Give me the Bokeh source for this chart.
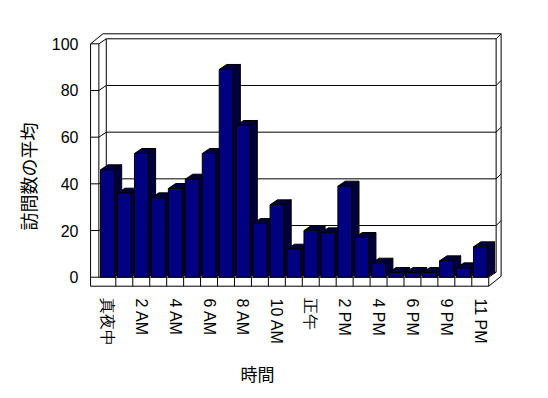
from bokeh.plotting import figure
from bokeh.models import Range1d, FixedTicker, Title
from bokeh.embed import file_html
from bokeh.resources import INLINE

# ---- data ----
categories = ["真夜中", "1 AM", "2 AM", "3 AM", "4 AM", "5 AM", "6 AM", "7 AM",
              "8 AM", "9 AM", "10 AM", "11 AM", "正午", "1 PM", "2 PM", "3 PM",
              "4 PM", "5 PM", "6 PM", "7 PM", "9 PM", "10 PM", "11 PM"]
visits = [46, 36, 53, 34, 38, 42, 53, 89, 65, 23, 31, 12,
          20, 19, 39, 17, 6, 2, 2, 2, 7, 4, 13]
y_ticks = [0, 20, 40, 60, 80, 100]
x_title = "時間"
y_title = "訪問数の平均"

# ---- geometry (3D look) ----
PX_X = 16.95          # px per category
PX_Y = 2.334          # px per value unit
DX, DY = 7.4 / PX_X, 5.0 / PX_Y      # depth of plot box
TX, TY = 5.0 / PX_X, 5.0 / PX_Y      # wall thickness (oblique)
WALL = 8.3 / PX_X                    # left wall front thickness
FLOOR = 9.0 / PX_Y                   # floor slab thickness
BAR_L, BAR_R = 0.10, 0.91
N = len(visits)
YMAX = y_ticks[-1]

x0, x1 = -0.73, 23.93
y0, y1 = -4.84, 105.7

p = figure(frame_width=int(round((x1 - x0) * PX_X)),
           frame_height=int(round((y1 - y0) * PX_Y)),
           x_range=Range1d(x0, x1), y_range=Range1d(y0, y1),
           output_backend="svg", toolbar_location=None,
           min_border_left=86, min_border_right=22,
           min_border_top=30, min_border_bottom=100)
p.outline_line_color = None
p.grid.visible = False
p.background_fill_color = "white"
p.border_fill_color = "white"

# ---- frame lines ----
lx, ly = [], []
def seg(xa, ya, xb, yb):
    lx.append([xa, xb]); ly.append([ya, yb])

L = -WALL
R = N
seg(L, -FLOOR, L, YMAX)                       # left wall outer front edge
seg(L, -FLOOR, R, -FLOOR)                     # floor front bottom
seg(L, 0, R, 0)                               # floor front top
seg(R, -FLOOR, R, 0)                          # floor front right edge
seg(R, -FLOOR, R + DX + TX, -FLOOR + DY + TY) # floor bottom right diagonal
seg(R, 0, R + DX, DY)                         # floor top right diagonal
seg(R + DX + TX, -FLOOR + DY + TY, R + DX + TX, YMAX + DY + TY)  # back outer right
seg(R + DX, DY, R + DX, YMAX + DY)            # back inner right
seg(L + DX + TX, YMAX + DY + TY, R + DX + TX, YMAX + DY + TY)    # top outer
seg(DX, YMAX + DY, R + DX, YMAX + DY)         # top inner
seg(R + DX, YMAX + DY, R + DX + TX, YMAX + DY + TY)
seg(L, YMAX, L + DX + TX, YMAX + DY + TY)     # left wall top outer
seg(0, YMAX, DX, YMAX + DY)                   # left wall top inner
seg(L, YMAX, 0, YMAX)                         # left wall front top
seg(0, 0, 0, YMAX)                            # left wall inner front edge
seg(DX, DY, DX, YMAX + DY)                    # back/left wall corner
seg(DX, DY, R + DX, DY)                       # floor / back wall joint
for v in y_ticks[1:-1]:
    seg(DX, v + DY, R + DX, v + DY)           # back wall gridline
    seg(R + DX, v + DY, R + DX + TX, v + DY + TY)
    seg(0, v, DX, v + DY)                     # left wall gridline
    seg(L, v, 0, v)                           # tick across wall front
for i in range(1, N):
    seg(i, -FLOOR, i, 0)                      # category dividers on floor

p.multi_line(lx, ly, line_color="black", line_width=1)

# ---- bars ----
bx, by, bc = [], [], []
FRONT = "#000080"
SHADE = "#00003a"
for i, v in enumerate(visits):
    l, r = i + BAR_L, i + BAR_R
    bx.append([r, r + DX, r + DX, r]); by.append([0, DY, v + DY, v]); bc.append(SHADE)
    bx.append([l, r, r + DX, l + DX]); by.append([v, v, v + DY, v + DY]); bc.append(SHADE)
    bx.append([l, r, r, l]); by.append([0, 0, v, v]); bc.append(FRONT)
p.patches(bx, by, fill_color=bc, line_color="black", line_width=1)

# ---- axes ----
FONT = "Liberation Sans"
yax = p.yaxis[0]
yax.ticker = FixedTicker(ticks=y_ticks)
yax.axis_line_color = None
yax.major_tick_in = 0
yax.major_tick_out = 0
yax.minor_tick_line_color = None
yax.major_label_standoff = 8
yax.major_label_text_font = FONT
yax.major_label_text_font_size = "16px"
yax.major_label_text_color = "black"

xax = p.xaxis[0]
xt = [i + 0.5 for i in range(0, N, 2)]
xax.ticker = FixedTicker(ticks=xt)
xax.major_label_overrides = {i + 0.5: categories[i] for i in range(0, N, 2)}
xax.major_label_orientation = "vertical"
xax.axis_line_color = None
xax.major_tick_in = 0
xax.major_tick_out = 0
xax.minor_tick_line_color = None
xax.major_label_standoff = 10
xax.major_label_text_font = FONT
xax.major_label_text_font_size = "16px"
xax.major_label_text_color = "black"

# axis titles
p.add_layout(Title(text=x_title, align="left", offset=154, standoff=19,
                   text_font="Noto Sans CJK JP", text_font_size="17px",
                   text_font_style="normal", text_color="black"), "below")
p.add_layout(Title(text=y_title, align="left", offset=58, standoff=15,
                   text_font="Noto Sans CJK JP", text_font_size="18px",
                   text_font_style="normal", text_color="black"), "left")

open("out.html", "w").write(file_html(p, INLINE))
